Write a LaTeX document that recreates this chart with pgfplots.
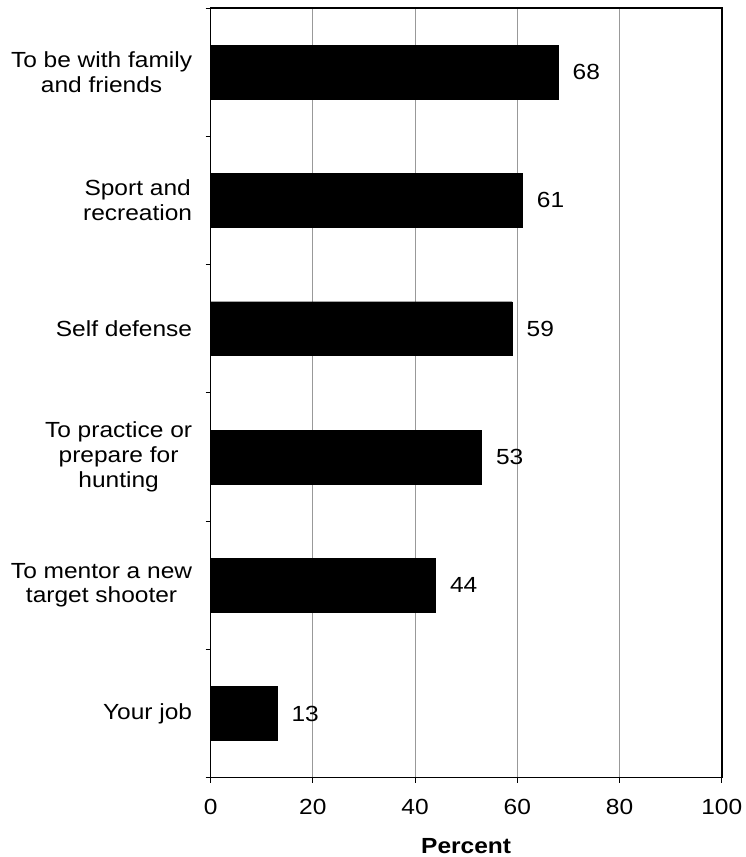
\documentclass[border=0pt]{standalone}
\usepackage{pgfplots}
\pgfplotsset{compat=1.18}
\usepackage{fontspec}
\setmainfont{Liberation Sans}[FakeStretch=1.12]
\begin{document}
\begin{tikzpicture}
\begin{axis}[
  scale only axis, width=512bp, height=771bp,
  font=\fontsize{22}{25}\selectfont,
  /pgf/number format/assume math mode=true,
  xbar, bar width=54bp,
  xmin=0, xmax=100, ymin=-0.5, ymax=5.5,
  y dir=reverse,
  xtick={0,20,...,100},
  xtick pos=bottom, ytick pos=left,
  xmajorgrids, major grid style={gray!80, line width=0.8bp},
  ytick={-0.5,0.5,...,5.5},
  yticklabels={},
  extra y ticks={0,1,2,3,4,5},
  extra y tick labels={{To be with family\\and friends},{Sport and\\recreation},{Self defense},{To practice or\\prepare for\\hunting},{To mentor a new\\target shooter},{Your job}},
  extra y tick style={major tick length=0pt, grid=none},
  yticklabel style={align=center, xshift=-15bp},
  xticklabel style={yshift=-13bp},
  tick align=outside,
  major tick length=5bp,
  tick style={black, line width=0.8bp},
  axis line style={line width=1.6bp},
  xlabel={\textbf{Percent}},
  xlabel style={yshift=-17bp},
  nodes near coords,
  nodes near coords style={anchor=west, xshift=11bp, black},
]
\addplot[fill=black, draw=black] coordinates {(68,0) (61,1) (59,2) (53,3) (44,4) (13,5)};
\end{axis}
\path ([yshift=8bp]current axis.north);
\path ([xshift=-211bp]current axis.south west);
\end{tikzpicture}
\end{document}
